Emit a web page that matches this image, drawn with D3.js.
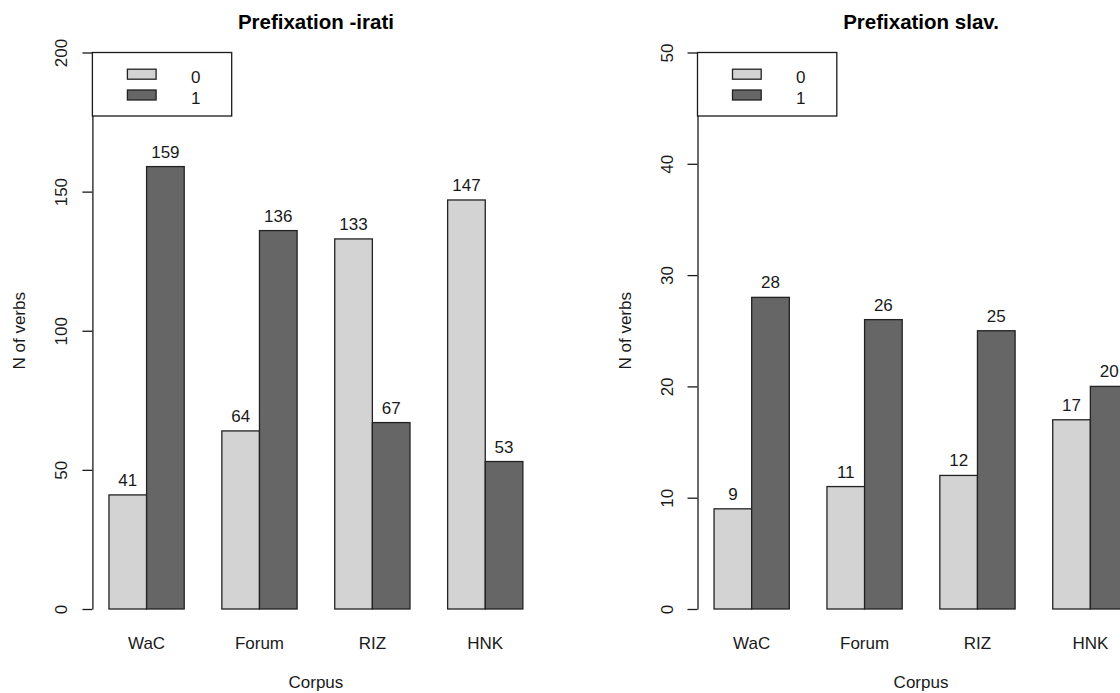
<!DOCTYPE html>
<html>
<head>
<meta charset="utf-8">
<script src="https://cdn.jsdelivr.net/npm/d3@7"></script>
<style>
  html, body { margin: 0; padding: 0; background: #fff; }
  svg { display: block; font-family: "Liberation Sans", Arial, Helvetica, sans-serif; }
</style>
</head>
<body>
<svg id="chart" width="1120" height="693"></svg>
<script>
// Corpora shown on the x axis
const corpora = ["WaC", "Forum", "RIZ", "HNK"];
// Legend groups (prefixation absent / present)
const groups = ["0", "1"];

// Prefixation -irati: counts per corpus for groups 0 and 1
const iratiGroup0 = [41, 64, 133, 147];
const iratiGroup1 = [159, 136, 67, 53];
const iratiTicks = [0, 50, 100, 150, 200];

// Prefixation slav.: counts per corpus for groups 0 and 1
const slavGroup0 = [9, 11, 12, 17];
const slavGroup1 = [28, 26, 25, 20];
const slavTicks = [0, 10, 20, 30, 40, 50];

const fillColors = ["#d3d3d3", "#666666"];
const ink = "#1a1a1a";

const svg = d3.select("#chart");

// Shared vertical layout
const yBottom = 609, yTop = 52.5;
const unitPx = 37.63;            // width of one bar

function drawPanel(opts) {
  const { left, title, g0, g1, ticks } = opts;
  const g = svg.append("g");

  // x in bar units: R-style barplot layout, bars at 1..12, 4% expansion
  const ux = d3.scaleLinear().domain([0.56, 12.44])
    .range([left, left + unitPx * 11.88]);
  const x0 = d3.scaleBand().domain(corpora)
    .range([ux(1), ux(12)]).paddingInner(1 / 3).paddingOuter(0);
  const x1 = d3.scaleBand().domain(groups).range([0, x0.bandwidth()]);

  const y = d3.scaleLinear().domain([0, ticks[ticks.length - 1]])
    .range([yBottom, yTop]);

  const rows = corpora.map((c, i) => ({ corpus: c, values: [g0[i], g1[i]] }));

  // bars
  const grp = g.selectAll("g.grp").data(rows).join("g")
    .attr("transform", d => `translate(${x0(d.corpus)},0)`);
  grp.selectAll("rect").data(d => d.values.map((v, k) => ({ k, v }))).join("rect")
    .attr("x", d => x1(groups[d.k]))
    .attr("y", d => y(d.v))
    .attr("width", x1.bandwidth())
    .attr("height", d => y(0) - y(d.v))
    .attr("fill", d => fillColors[d.k])
    .attr("stroke", "#222")
    .attr("stroke-width", 1.3);

  // value labels above bars
  grp.selectAll("text.val").data(d => d.values.map((v, k) => ({ k, v }))).join("text")
    .attr("class", "val")
    .attr("x", d => x1(groups[d.k]) + x1.bandwidth() / 2)
    .attr("y", d => y(d.v) - 9)
    .attr("text-anchor", "middle")
    .attr("font-size", 17)
    .attr("fill", ink)
    .text(d => d.v);

  // y axis
  const axis = g.append("g")
    .attr("transform", `translate(${left},0)`)
    .call(d3.axisLeft(y).tickValues(ticks).tickSize(10).tickSizeOuter(0));
  axis.select(".domain").attr("stroke", ink).attr("stroke-width", 1.3);
  axis.selectAll(".tick line").attr("stroke", ink).attr("stroke-width", 1.3);
  axis.selectAll(".tick text")
    .attr("transform", "rotate(-90)")
    .attr("x", 0).attr("y", -25).attr("dy", 0)
    .attr("text-anchor", "middle")
    .attr("font-size", 17)
    .attr("font-family", "Liberation Sans, Arial, sans-serif")
    .attr("fill", ink);

  // category labels
  g.selectAll("text.cat").data(corpora).join("text")
    .attr("class", "cat")
    .attr("x", d => x0(d) + x0.bandwidth() / 2)
    .attr("y", 648.5)
    .attr("text-anchor", "middle")
    .attr("font-size", 17)
    .attr("fill", ink)
    .text(d => d);

  const cx = (ux(0.56) + ux(12.44)) / 2;

  // title
  g.append("text")
    .attr("x", cx).attr("y", 29)
    .attr("text-anchor", "middle")
    .attr("font-size", 20.5)
    .attr("font-weight", "bold")
    .attr("fill", "#000")
    .text(title);

  // axis titles
  g.append("text")
    .attr("x", cx).attr("y", 688)
    .attr("text-anchor", "middle")
    .attr("font-size", 17)
    .attr("fill", ink)
    .text("Corpus");
  g.append("text")
    .attr("transform", `translate(${left - 67},${(yBottom + yTop) / 2}) rotate(-90)`)
    .attr("text-anchor", "middle")
    .attr("font-size", 17)
    .attr("fill", ink)
    .text("N of verbs");

  // legend
  const lg = g.append("g").attr("transform", `translate(${left},${yTop})`);
  lg.append("rect")
    .attr("x", 0).attr("y", 0).attr("width", 139.3).attr("height", 63.5)
    .attr("fill", "#fff").attr("stroke", ink).attr("stroke-width", 1.3);
  groups.forEach((lab, k) => {
    lg.append("rect")
      .attr("x", 35).attr("y", 16.7 + k * 20.8)
      .attr("width", 28.7).attr("height", 10)
      .attr("fill", fillColors[k]).attr("stroke", "#222").attr("stroke-width", 1.3);
    lg.append("text")
      .attr("x", 98.5).attr("y", 30 + k * 21)
      .attr("font-size", 17)
      .attr("fill", ink)
      .text(lab);
  });
}

drawPanel({ left: 92.4, title: "Prefixation -irati", g0: iratiGroup0, g1: iratiGroup1, ticks: iratiTicks });
drawPanel({ left: 697.5, title: "Prefixation slav.", g0: slavGroup0, g1: slavGroup1, ticks: slavTicks });
</script>
</body>
</html>
